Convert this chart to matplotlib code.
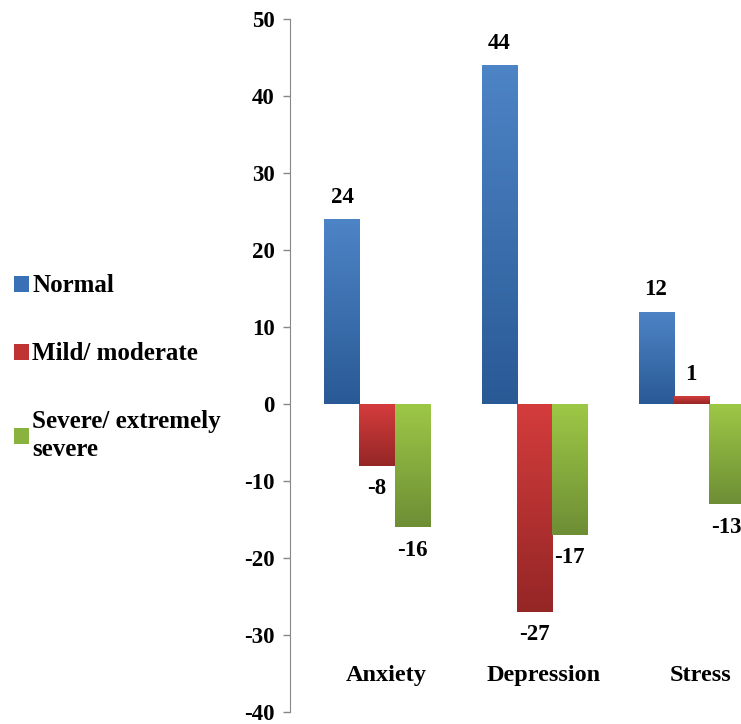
import numpy as np
import matplotlib.pyplot as plt
from matplotlib.patches import Patch
from matplotlib.colors import LinearSegmentedColormap

# data
categories = ['Anxiety', 'Depression', 'Stress']
series = ['Normal', 'Mild/ moderate', 'Severe/ extremely\nsevere']
normal = [24, 44, 12]
mild = [-8, -27, 1]
severe = [-16, -17, -13]
yticks = [-40, -30, -20, -10, 0, 10, 20, 30, 40, 50]

# gradient colours (top, bottom) per series
grads = [('#4d84c6', '#2a5a96'), ('#d43c3c', '#952626'), ('#9dc846', '#6e8e35')]
flat = ['#3a70b5', '#c03333', '#8ab23e']

plt.rcParams['font.family'] = ['Liberation Serif', 'DejaVu Serif']
plt.rcParams['font.weight'] = 'bold'
plt.rcParams['axes.unicode_minus'] = False

fig = plt.figure(figsize=(7.41, 7.24), dpi=100)
ax = fig.add_axes([290 / 741, 12 / 724, 1 - 290 / 741, 1 - 31 / 724])

x = np.arange(len(categories))
w = 0.223
values = [normal, mild, severe]

for k, vals in enumerate(values):
    bars = ax.bar(x + (k - 1) * w, vals, w, color=flat[k], edgecolor='none', zorder=2)
    cmap = LinearSegmentedColormap.from_list('g%d' % k, [grads[k][1], grads[k][0]])
    for b in bars:
        x0, y0 = b.get_x(), b.get_y()
        bw, bh = b.get_width(), b.get_height()
        grad = np.linspace(0, 1, 100).reshape(-1, 1)
        im = ax.imshow(grad, cmap=cmap, aspect='auto', origin='lower',
                       extent=[x0, x0 + bw, min(y0, y0 + bh), max(y0, y0 + bh)], zorder=3)
        im.set_clip_path(b)
        b.set_alpha(0)
    for b, v in zip(bars, vals):
        off = 22 if v >= 0 else -23
        ax.annotate(str(v), (b.get_x() + b.get_width() / 2, v),
                    xytext=(0, off), textcoords='offset pixels',
                    ha='center', va='center', fontsize=16.5, fontweight='bold', zorder=4)

for i, c in enumerate(categories):
    ax.text(i + 0.06, -35.3, c, ha='center', va='center', fontsize=17.5, fontweight='bold')

ax.set_xlim(-0.554, 2.318)
ax.set_ylim(-40, 50)
ax.set_yticks(yticks)
ax.tick_params(axis='y', direction='out', length=5, width=1, color='#888888',
               pad=6, labelsize=16.5)
for lab in ax.get_yticklabels():
    lab.set_fontweight('bold')
ax.tick_params(axis='x', bottom=False, labelbottom=False)
for s in ['top', 'right', 'bottom']:
    ax.spines[s].set_visible(False)
ax.spines['left'].set_color('#888888')

handles = [Patch(facecolor=flat[k], edgecolor='none') for k in range(3)]
leg = fig.legend(handles, series, loc='upper left', bbox_to_anchor=(0.0, 0.64),
                 frameon=False, handlelength=0.6, handleheight=0.6,
                 handletextpad=0.15, labelspacing=1.8, borderaxespad=0.0,
                 borderpad=0.55, prop={'weight': 'bold', 'size': 18})
for t in leg.get_texts():
    t.set_linespacing(1.25)

plt.savefig('out.png', dpi=100)
